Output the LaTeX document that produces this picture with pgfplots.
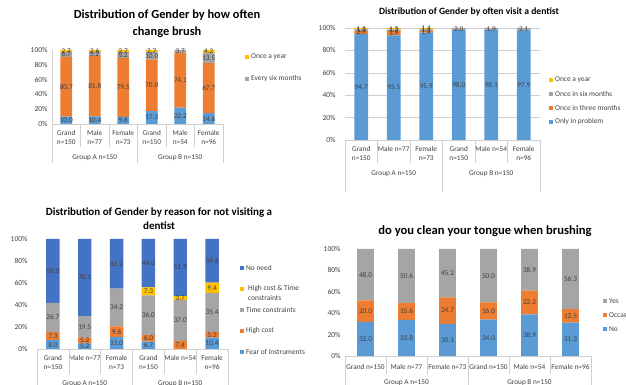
\documentclass[border=0pt]{standalone}
\usepackage{pgfplots}
\pgfplotsset{compat=1.18}
\usepackage{fontspec}
\setmainfont{Carlito}

\definecolor{xblue}{HTML}{5B9BD5}
\definecolor{xorange}{HTML}{ED7D31}
\definecolor{xgray}{HTML}{A5A5A5}
\definecolor{xyellow}{HTML}{FFC000}
\definecolor{xdblue}{HTML}{4472C4}
\definecolor{txt}{HTML}{404040}
\definecolor{sep}{HTML}{D0D0D0}

\newcommand\fs[1]{\fontsize{#1}{#1}\selectfont}

\pgfplotsset{
  panel/.style={
    scale only axis,
    anchor=south west,
    ybar stacked,
    bar width=0.42,
    xmin=-0.5, xmax=5.5,
    ymin=0, ymax=100,
    xtick=\empty,
    ytick={0,20,...,100},
    yticklabel={\pgfmathprintnumber{\tick}\%},
    /pgf/number format/assume math mode=true,
    tick label style={font=\fs{7.5}, text=txt},
    major tick length=0pt,
    axis lines*=left,
    x axis line style={draw=sep},
    y axis line style={draw=none},
    clip=false,
    nodes near coords={\pgfmathfloatifflags{\pgfplotspointmeta}{0}{}{\pgfmathprintnumber[fixed,fixed zerofill,precision=1]{\pgfplotspointmeta}}},
    every node near coord/.append style={font=\fs{7.3}, text=txt, inner sep=0pt},
  },
}
\tikzset{
  catlab/.style={font=\fontsize{7.3}{9.5}\selectfont, text=txt, align=center, anchor=north, inner sep=0pt},
  grplab/.style={font=\fs{7.3}, text=txt, inner sep=0pt},
}

% separators of the two-level category axis: inner depth, outer depth
\newcommand\seps[2]{%
  \draw[sep] (axis cs:-0.5,0) -- ([yshift=-#2]axis cs:-0.5,0);
  \draw[sep] (axis cs:0.5,0) -- ([yshift=-#1]axis cs:0.5,0);
  \draw[sep] (axis cs:1.5,0) -- ([yshift=-#1]axis cs:1.5,0);
  \draw[sep] (axis cs:2.5,0) -- ([yshift=-#2]axis cs:2.5,0);
  \draw[sep] (axis cs:3.5,0) -- ([yshift=-#1]axis cs:3.5,0);
  \draw[sep] (axis cs:4.5,0) -- ([yshift=-#1]axis cs:4.5,0);
  \draw[sep] (axis cs:5.5,0) -- ([yshift=-#2]axis cs:5.5,0);
}
% group labels below the categories
\newcommand\groups[1]{%
  \node[grplab] at ([yshift=-#1]axis cs:1,0) {Group A n=150};
  \node[grplab] at ([yshift=-#1]axis cs:4,0) {Group B n=150};
}
% legend key: x, y, colour, text
\newcommand\lkey[4]{%
  \fill[#3] (#1pt-2pt,#2pt-2pt) rectangle ++(4pt,4pt);
  \node[anchor=west, font=\fs{7.4}, text=txt, inner sep=0pt, align=left] at (#1pt+4pt,#2pt) {#4};
}

\begin{document}
\begin{tikzpicture}
\useasboundingbox (0,0) rectangle (626pt,385pt);

%% ---------------- How often change brush ----------------
\begin{axis}[panel, at={(52pt,261pt)}, width=171pt, height=74pt,
  y axis line style={draw=sep},
  yticklabel style={xshift=-1pt}]
\addplot[fill=xblue, draw=none] coordinates {(0,10.0)(1,10.4)(2,9.6)(3,17.3)(4,22.2)(5,14.6)};
\addplot[fill=xorange, draw=none] coordinates {(0,80.7)(1,81.8)(2,79.5)(3,70.0)(4,74.1)(5,67.7)};
\addplot[fill=xgray, draw=none] coordinates {(0,6.7)(1,5.2)(2,8.2)(3,10.0)(4,3.7)(5,13.5)};
\addplot[fill=xyellow, draw=none] coordinates {(0,2.7)(1,2.6)(2,2.7)(3,2.7)(4,0)(5,4.2)};
\seps{23pt}{39pt}
\node[catlab] at ([yshift=-6pt]axis cs:0,0) {Grand\\n=150};
\node[catlab] at ([yshift=-6pt]axis cs:1,0) {Male\\n=77};
\node[catlab] at ([yshift=-6pt]axis cs:2,0) {Female\\n=73};
\node[catlab] at ([yshift=-6pt]axis cs:3,0) {Grand\\n=150};
\node[catlab] at ([yshift=-6pt]axis cs:4,0) {Male\\n=54};
\node[catlab] at ([yshift=-6pt]axis cs:5,0) {Female\\n=96};
\groups{34pt}
\end{axis}
\node[font=\bfseries\fontsize{12.4}{17}\selectfont, align=center] at (167pt,361.5pt)
  {Distribution of Gender by how often\\change brush};
\lkey{247}{328}{xyellow}{Once a year}
\lkey{247}{306}{xgray}{Every six months}

%% ---------------- How often visit a dentist ----------------
\begin{axis}[panel, at={(345pt,245pt)}, width=195pt, height=112pt,
  ymajorgrids, grid style={draw=sep, line width=0.4pt},
  yticklabel style={xshift=-6pt}]
\addplot[fill=xblue, draw=none] coordinates {(0,94.7)(1,93.5)(2,95.9)(3,98.0)(4,98.1)(5,97.9)};
\addplot[fill=xorange, draw=none] coordinates {(0,2.7)(1,3.9)(2,1.4)(3,0)(4,0)(5,0)};
\addplot[fill=xgray, draw=none] coordinates {(0,1.3)(1,1.3)(2,1.4)(3,2.0)(4,1.9)(5,2.1)};
\addplot[fill=xyellow, draw=none] coordinates {(0,1.3)(1,1.3)(2,1.4)(3,0)(4,0)(5,0)};
\seps{23pt}{52pt}
\node[catlab] at ([yshift=-6pt]axis cs:0,0) {Grand\\n=150};
\node[catlab] at ([yshift=-6pt]axis cs:1,0) {Male n=77};
\node[catlab] at ([yshift=-6pt]axis cs:2,0) {Female\\n=73};
\node[catlab] at ([yshift=-6pt]axis cs:3,0) {Grand\\n=150};
\node[catlab] at ([yshift=-6pt]axis cs:4,0) {Male n=54};
\node[catlab] at ([yshift=-6pt]axis cs:5,0) {Female\\n=96};
\groups{34pt}
\end{axis}
\node[font=\bfseries\fs{9.6}] at (469pt,373pt) {Distribution of Gender by often visit a dentist};
\lkey{551}{305}{xyellow}{Once a year}
\lkey{551}{291}{xgray}{Once in six months}
\lkey{551}{277}{xorange}{Once in three months}
\lkey{551}{263}{xblue}{Only in problem}

%% ---------------- Reason for not visiting a dentist ----------------
\begin{axis}[panel, at={(37pt,36pt)}, width=191pt, height=110pt,
  yticklabel style={xshift=-6pt}]
\addplot[fill=xblue, draw=none] coordinates {(0,8.0)(1,5.2)(2,11.0)(3,6.7)(4,0)(5,10.4)};
\addplot[fill=xorange, draw=none] coordinates {(0,7.3)(1,5.2)(2,9.6)(3,6.0)(4,7.4)(5,5.2)};
\addplot[fill=xgray, draw=none] coordinates {(0,26.7)(1,19.5)(2,34.2)(3,36.0)(4,37.0)(5,35.4)};
\addplot[fill=xyellow, draw=none] coordinates {(0,0)(1,0)(2,0)(3,7.3)(4,3.7)(5,9.4)};
\addplot[fill=xdblue, draw=none] coordinates {(0,58.0)(1,70.1)(2,45.2)(3,44.0)(4,51.9)(5,39.6)};
\seps{25pt}{45pt}
\node[catlab] at ([yshift=-6pt]axis cs:0,0) {Grand\\n=150};
\node[catlab] at ([yshift=-6pt]axis cs:1,0) {Male n=77};
\node[catlab] at ([yshift=-6pt]axis cs:2,0) {Female\\n=73};
\node[catlab] at ([yshift=-6pt]axis cs:3,0) {Grand\\n=150};
\node[catlab] at ([yshift=-6pt]axis cs:4,0) {Male n=54};
\node[catlab] at ([yshift=-6pt]axis cs:5,0) {Female\\n=96};
\groups{35pt}
\end{axis}
\node[font=\bfseries\fontsize{11}{14}\selectfont, align=center] at (159pt,166pt)
  {Distribution of Gender by reason for not visiting a\\dentist};
\lkey{242}{117}{xdblue}{No need}
\fill[xyellow] (240pt,94pt) rectangle ++(4pt,4pt);
\node[anchor=north west, font=\fontsize{7.4}{10}\selectfont, text=txt, inner sep=0pt, align=left] at (248pt,99.5pt) {High cost \& Time\\constraints};
\lkey{242}{75}{xgray}{Time constraints}
\lkey{242}{54}{xorange}{High cost}
\lkey{242}{33}{xblue}{Fear of instruments}

%% ---------------- Tongue cleaning ----------------
\begin{axis}[panel, at={(345pt,29pt)}, width=246pt, height=107pt,
  bar width=0.41,
  yticklabel style={xshift=-1pt}]
\addplot[fill=xblue, draw=none] coordinates {(0,32.0)(1,33.8)(2,30.1)(3,34.0)(4,38.9)(5,31.3)};
\addplot[fill=xorange, draw=none] coordinates {(0,20.0)(1,15.6)(2,24.7)(3,16.0)(4,22.2)(5,12.5)};
\addplot[fill=xgray, draw=none] coordinates {(0,48.0)(1,50.6)(2,45.2)(3,50.0)(4,38.9)(5,56.3)};
\seps{18pt}{40pt}
\node[catlab] at ([yshift=-8.5pt]axis cs:0,0) {Grand n=150};
\node[catlab] at ([yshift=-8.5pt]axis cs:1,0) {Male n=77};
\node[catlab] at ([yshift=-8.5pt]axis cs:2,0) {Female n=73};
\node[catlab] at ([yshift=-8.5pt]axis cs:3,0) {Grand n=150};
\node[catlab] at ([yshift=-8.5pt]axis cs:4,0) {Male n=54};
\node[catlab] at ([yshift=-8.5pt]axis cs:5,0) {Female n=96};
\groups{27pt}
\end{axis}
\node[font=\bfseries\fs{12.6}] at (485pt,154pt) {do you clean your tongue when brushing};
\lkey{605}{84}{xgray}{Yes}
\lkey{605}{70}{xorange}{Occas}
\lkey{605}{56}{xblue}{No}
\end{tikzpicture}
\end{document}
